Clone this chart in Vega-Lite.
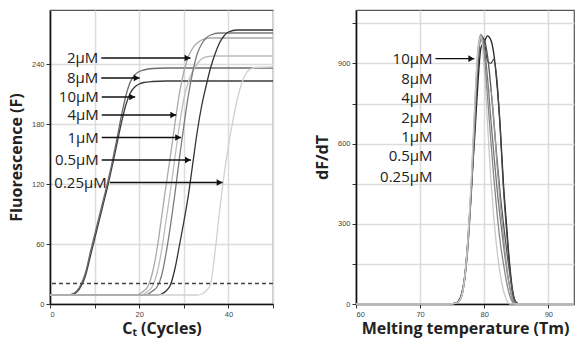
{
  "$schema": "https://vega.github.io/schema/vega-lite/v6.json",
  "padding": {"left": 7, "top": 9, "right": 0, "bottom": 0},
  "spacing": 36,
  "background": "white",
  "config": {
    "view": {"stroke": "#555", "strokeWidth": 1.2},
    "axis": {"grid": true, "gridColor": "#dcdcdc", "gridWidth": 1.5, "domainColor": "#111", "domainWidth": 1.6, "tickColor": "#333", "tickSize": 4, "labelFont": "Liberation Sans", "labelFontSize": 7.5, "labelColor": "#444", "labelPadding": 2, "titleFont": "Open Sans", "titleFontSize": 16, "titleFontWeight": "bold", "titleColor": "#222"}
  },
  "resolve": {"scale": {"color": "independent"}},
  "datasets": {
    "amp": [
      {"s":"10µM","c":0,"v":9},{"s":"10µM","c":4,"v":9},{"s":"10µM","c":5,"v":9.5},{"s":"10µM","c":6,"v":12},{"s":"10µM","c":7,"v":18},{"s":"10µM","c":8,"v":29},{"s":"10µM","c":9,"v":47},{"s":"10µM","c":10,"v":65},{"s":"10µM","c":11,"v":83},{"s":"10µM","c":12,"v":101},{"s":"10µM","c":13,"v":119},{"s":"10µM","c":14,"v":139},{"s":"10µM","c":15,"v":160},{"s":"10µM","c":16,"v":181},{"s":"10µM","c":17,"v":199},{"s":"10µM","c":18,"v":211},{"s":"10µM","c":19,"v":217},{"s":"10µM","c":20,"v":220},{"s":"10µM","c":21,"v":221.5},{"s":"10µM","c":23,"v":222.5},{"s":"10µM","c":26,"v":223},{"s":"10µM","c":50,"v":223},
      {"s":"8µM","c":0,"v":9},{"s":"8µM","c":4,"v":9},{"s":"8µM","c":5,"v":10},{"s":"8µM","c":6,"v":13},{"s":"8µM","c":7,"v":20},{"s":"8µM","c":8,"v":32},{"s":"8µM","c":9,"v":51},{"s":"8µM","c":10,"v":69},{"s":"8µM","c":11,"v":87},{"s":"8µM","c":12,"v":105},{"s":"8µM","c":13,"v":123},{"s":"8µM","c":14,"v":143},{"s":"8µM","c":15,"v":165},{"s":"8µM","c":16,"v":188},{"s":"8µM","c":17,"v":208},{"s":"8µM","c":18,"v":222},{"s":"8µM","c":19,"v":229},{"s":"8µM","c":20,"v":232.5},{"s":"8µM","c":21,"v":234},{"s":"8µM","c":23,"v":235.5},{"s":"8µM","c":26,"v":236},{"s":"8µM","c":50,"v":236},
      {"s":"4µM","c":0,"v":9},{"s":"4µM","c":19,"v":9},{"s":"4µM","c":20,"v":10},{"s":"4µM","c":21,"v":13},{"s":"4µM","c":22,"v":18},{"s":"4µM","c":23,"v":32},{"s":"4µM","c":24,"v":55},{"s":"4µM","c":25,"v":86},{"s":"4µM","c":26,"v":118},{"s":"4µM","c":27,"v":148},{"s":"4µM","c":28,"v":180},{"s":"4µM","c":29,"v":210},{"s":"4µM","c":30,"v":232},{"s":"4µM","c":31,"v":247},{"s":"4µM","c":32,"v":256},{"s":"4µM","c":33,"v":261},{"s":"4µM","c":34,"v":264},{"s":"4µM","c":36,"v":266},{"s":"4µM","c":50,"v":266},
      {"s":"1µM","c":0,"v":9},{"s":"1µM","c":20,"v":9},{"s":"1µM","c":21,"v":10},{"s":"1µM","c":22,"v":13},{"s":"1µM","c":23,"v":18},{"s":"1µM","c":24,"v":31},{"s":"1µM","c":25,"v":53},{"s":"1µM","c":26,"v":83},{"s":"1µM","c":27,"v":113},{"s":"1µM","c":28,"v":146},{"s":"1µM","c":29,"v":178},{"s":"1µM","c":30,"v":205},{"s":"1µM","c":31,"v":222},{"s":"1µM","c":32,"v":233},{"s":"1µM","c":33,"v":240},{"s":"1µM","c":34,"v":245},{"s":"1µM","c":35,"v":247},{"s":"1µM","c":37,"v":248},{"s":"1µM","c":50,"v":248},
      {"s":"2µM","c":0,"v":9},{"s":"2µM","c":21,"v":9},{"s":"2µM","c":22,"v":10},{"s":"2µM","c":23,"v":13},{"s":"2µM","c":24,"v":17},{"s":"2µM","c":25,"v":28},{"s":"2µM","c":26,"v":50},{"s":"2µM","c":27,"v":78},{"s":"2µM","c":28,"v":110},{"s":"2µM","c":29,"v":145},{"s":"2µM","c":30,"v":178},{"s":"2µM","c":31,"v":208},{"s":"2µM","c":32,"v":232},{"s":"2µM","c":33,"v":250},{"s":"2µM","c":34,"v":260},{"s":"2µM","c":35,"v":266},{"s":"2µM","c":36,"v":269},{"s":"2µM","c":38,"v":271},{"s":"2µM","c":50,"v":271},
      {"s":"0.5µM","c":0,"v":9},{"s":"0.5µM","c":24,"v":9},{"s":"0.5µM","c":25,"v":10},{"s":"0.5µM","c":26,"v":13},{"s":"0.5µM","c":27,"v":19},{"s":"0.5µM","c":28,"v":35},{"s":"0.5µM","c":29,"v":58},{"s":"0.5µM","c":30,"v":82},{"s":"0.5µM","c":31,"v":108},{"s":"0.5µM","c":32,"v":140},{"s":"0.5µM","c":33,"v":172},{"s":"0.5µM","c":34,"v":198},{"s":"0.5µM","c":35,"v":218},{"s":"0.5µM","c":36,"v":236},{"s":"0.5µM","c":37,"v":250},{"s":"0.5µM","c":38,"v":261},{"s":"0.5µM","c":39,"v":268},{"s":"0.5µM","c":40,"v":272},{"s":"0.5µM","c":42,"v":274},{"s":"0.5µM","c":50,"v":274},
      {"s":"0.25µM","c":0,"v":9},{"s":"0.25µM","c":33,"v":9},{"s":"0.25µM","c":34,"v":10},{"s":"0.25µM","c":35,"v":13},{"s":"0.25µM","c":36,"v":20},{"s":"0.25µM","c":37,"v":52},{"s":"0.25µM","c":38,"v":92},{"s":"0.25µM","c":39,"v":128},{"s":"0.25µM","c":40,"v":158},{"s":"0.25µM","c":41,"v":183},{"s":"0.25µM","c":42,"v":205},{"s":"0.25µM","c":43,"v":221},{"s":"0.25µM","c":44,"v":231},{"s":"0.25µM","c":45,"v":235},{"s":"0.25µM","c":46,"v":236.5},{"s":"0.25µM","c":50,"v":237}
    ],
    "melt": [
      {"s":"10µM","t":60,"v":0},{"s":"10µM","t":74.5,"v":0},{"s":"10µM","t":75,"v":1},{"s":"10µM","t":75.5,"v":3},{"s":"10µM","t":76,"v":12},{"s":"10µM","t":76.5,"v":40},{"s":"10µM","t":77,"v":110},{"s":"10µM","t":77.5,"v":260},{"s":"10µM","t":78,"v":440},{"s":"10µM","t":78.5,"v":620},{"s":"10µM","t":79,"v":820},{"s":"10µM","t":79.5,"v":960},{"s":"10µM","t":80,"v":980},{"s":"10µM","t":80.5,"v":1003},{"s":"10µM","t":81,"v":990},{"s":"10µM","t":81.5,"v":935},{"s":"10µM","t":82,"v":820},{"s":"10µM","t":82.5,"v":660},{"s":"10µM","t":83,"v":450},{"s":"10µM","t":83.5,"v":290},{"s":"10µM","t":84,"v":140},{"s":"10µM","t":84.5,"v":40},{"s":"10µM","t":85,"v":6},{"s":"10µM","t":85.5,"v":0},{"s":"10µM","t":94,"v":0},
      {"s":"8µM","t":60,"v":0},{"s":"8µM","t":74.5,"v":0},{"s":"8µM","t":75,"v":1},{"s":"8µM","t":75.5,"v":3},{"s":"8µM","t":76,"v":10},{"s":"8µM","t":76.5,"v":35},{"s":"8µM","t":77,"v":105},{"s":"8µM","t":77.5,"v":240},{"s":"8µM","t":78,"v":420},{"s":"8µM","t":78.5,"v":650},{"s":"8µM","t":79,"v":880},{"s":"8µM","t":79.5,"v":1005},{"s":"8µM","t":80,"v":985},{"s":"8µM","t":80.5,"v":910},{"s":"8µM","t":81,"v":900},{"s":"8µM","t":81.5,"v":915},{"s":"8µM","t":82,"v":830},{"s":"8µM","t":82.5,"v":650},{"s":"8µM","t":83,"v":430},{"s":"8µM","t":83.5,"v":270},{"s":"8µM","t":84,"v":125},{"s":"8µM","t":84.5,"v":30},{"s":"8µM","t":85,"v":3},{"s":"8µM","t":85.5,"v":0},{"s":"8µM","t":94,"v":0},
      {"s":"4µM","t":60,"v":0},{"s":"4µM","t":74.5,"v":0},{"s":"4µM","t":75,"v":1},{"s":"4µM","t":75.5,"v":3},{"s":"4µM","t":76,"v":10},{"s":"4µM","t":76.5,"v":38},{"s":"4µM","t":77,"v":115},{"s":"4µM","t":77.5,"v":250},{"s":"4µM","t":78,"v":440},{"s":"4µM","t":78.5,"v":680},{"s":"4µM","t":79,"v":900},{"s":"4µM","t":79.5,"v":1000},{"s":"4µM","t":80,"v":990},{"s":"4µM","t":80.5,"v":930},{"s":"4µM","t":81,"v":820},{"s":"4µM","t":81.5,"v":680},{"s":"4µM","t":82,"v":540},{"s":"4µM","t":82.5,"v":410},{"s":"4µM","t":83,"v":300},{"s":"4µM","t":83.5,"v":200},{"s":"4µM","t":84,"v":110},{"s":"4µM","t":84.5,"v":35},{"s":"4µM","t":85,"v":5},{"s":"4µM","t":85.5,"v":0},{"s":"4µM","t":94,"v":0},
      {"s":"2µM","t":60,"v":0},{"s":"2µM","t":74.5,"v":0},{"s":"2µM","t":75,"v":1},{"s":"2µM","t":75.5,"v":2},{"s":"2µM","t":76,"v":8},{"s":"2µM","t":76.5,"v":30},{"s":"2µM","t":77,"v":100},{"s":"2µM","t":77.5,"v":230},{"s":"2µM","t":78,"v":430},{"s":"2µM","t":78.5,"v":680},{"s":"2µM","t":79,"v":920},{"s":"2µM","t":79.5,"v":1000},{"s":"2µM","t":80,"v":960},{"s":"2µM","t":80.5,"v":850},{"s":"2µM","t":81,"v":700},{"s":"2µM","t":81.5,"v":560},{"s":"2µM","t":82,"v":430},{"s":"2µM","t":82.5,"v":320},{"s":"2µM","t":83,"v":220},{"s":"2µM","t":83.5,"v":130},{"s":"2µM","t":84,"v":60},{"s":"2µM","t":84.5,"v":15},{"s":"2µM","t":85,"v":1},{"s":"2µM","t":85.5,"v":0},{"s":"2µM","t":94,"v":0},
      {"s":"1µM","t":60,"v":0},{"s":"1µM","t":74.5,"v":0},{"s":"1µM","t":75,"v":1},{"s":"1µM","t":75.5,"v":3},{"s":"1µM","t":76,"v":10},{"s":"1µM","t":76.5,"v":35},{"s":"1µM","t":77,"v":110},{"s":"1µM","t":77.5,"v":250},{"s":"1µM","t":78,"v":460},{"s":"1µM","t":78.5,"v":720},{"s":"1µM","t":79,"v":950},{"s":"1µM","t":79.5,"v":1010},{"s":"1µM","t":80,"v":930},{"s":"1µM","t":80.5,"v":800},{"s":"1µM","t":81,"v":800},{"s":"1µM","t":81.5,"v":690},{"s":"1µM","t":82,"v":520},{"s":"1µM","t":82.5,"v":380},{"s":"1µM","t":83,"v":250},{"s":"1µM","t":83.5,"v":140},{"s":"1µM","t":84,"v":60},{"s":"1µM","t":84.5,"v":10},{"s":"1µM","t":85,"v":0},{"s":"1µM","t":94,"v":0},
      {"s":"0.5µM","t":60,"v":0},{"s":"0.5µM","t":74.5,"v":0},{"s":"0.5µM","t":75,"v":1},{"s":"0.5µM","t":75.5,"v":2},{"s":"0.5µM","t":76,"v":8},{"s":"0.5µM","t":76.5,"v":30},{"s":"0.5µM","t":77,"v":100},{"s":"0.5µM","t":77.5,"v":230},{"s":"0.5µM","t":78,"v":440},{"s":"0.5µM","t":78.5,"v":700},{"s":"0.5µM","t":79,"v":920},{"s":"0.5µM","t":79.5,"v":990},{"s":"0.5µM","t":80,"v":930},{"s":"0.5µM","t":80.5,"v":780},{"s":"0.5µM","t":81,"v":620},{"s":"0.5µM","t":81.5,"v":470},{"s":"0.5µM","t":82,"v":340},{"s":"0.5µM","t":82.5,"v":230},{"s":"0.5µM","t":83,"v":150},{"s":"0.5µM","t":83.5,"v":80},{"s":"0.5µM","t":84,"v":30},{"s":"0.5µM","t":84.5,"v":5},{"s":"0.5µM","t":85,"v":0},{"s":"0.5µM","t":94,"v":0},
      {"s":"0.25µM","t":60,"v":0},{"s":"0.25µM","t":74.5,"v":0},{"s":"0.25µM","t":75,"v":1},{"s":"0.25µM","t":75.5,"v":2},{"s":"0.25µM","t":76,"v":8},{"s":"0.25µM","t":76.5,"v":30},{"s":"0.25µM","t":77,"v":110},{"s":"0.25µM","t":77.5,"v":260},{"s":"0.25µM","t":78,"v":480},{"s":"0.25µM","t":78.5,"v":740},{"s":"0.25µM","t":79,"v":940},{"s":"0.25µM","t":79.5,"v":1000},{"s":"0.25µM","t":80,"v":880},{"s":"0.25µM","t":80.5,"v":680},{"s":"0.25µM","t":81,"v":480},{"s":"0.25µM","t":81.5,"v":320},{"s":"0.25µM","t":82,"v":200},{"s":"0.25µM","t":82.5,"v":110},{"s":"0.25µM","t":83,"v":50},{"s":"0.25µM","t":83.5,"v":15},{"s":"0.25µM","t":84,"v":0},{"s":"0.25µM","t":94,"v":0}
    ],
    "arrL": [
      {"label":"2µM","x1":11.5,"x2":31.5,"y":246},
      {"label":"8µM","x1":11.5,"x2":20.1,"y":226},
      {"label":"10µM","x1":11.6,"x2":19.1,"y":207},
      {"label":"4µM","x1":11.6,"x2":28.3,"y":189},
      {"label":"1µM","x1":11.6,"x2":29.4,"y":166.5},
      {"label":"0.5µM","x1":11.6,"x2":31.6,"y":144},
      {"label":"0.25µM","x1":13.4,"x2":38.7,"y":121.5}
    ],
    "labR": [
      {"label":"10µM","t":72.4,"v":917},
      {"label":"8µM","t":72.4,"v":840},
      {"label":"4µM","t":72.4,"v":769},
      {"label":"2µM","t":72.4,"v":696},
      {"label":"1µM","t":72.4,"v":623},
      {"label":"0.5µM","t":72.4,"v":552},
      {"label":"0.25µM","t":72.4,"v":476}
    ],
    "arrR": [
      {"label":"10µM","x1":72.4,"x2":78.45,"y":918}
    ]
  },
  "hconcat": [
    {
      "width": 223,
      "height": 294,
      "layer": [
        {
          "data": {"name": "amp"},
          "mark": {"type": "line", "strokeWidth": 1.3, "interpolate": "monotone"},
          "encoding": {
            "x": {"field": "c", "type": "quantitative", "scale": {"domain": [0, 50], "nice": false}, "axis": {"values": [0, 10, 20, 30, 40, 50], "labelExpr": "datum.value % 20 === 0 ? datum.label : ''", "title": "Cₜ (Cycles)", "titlePadding": 3}},
            "y": {"field": "v", "type": "quantitative", "scale": {"domain": [0, 294], "nice": false}, "axis": {"values": [0, 30, 60, 90, 120, 150, 180, 210, 240, 270], "labelExpr": "datum.value % 60 === 0 ? datum.label : ''", "title": "Fluorescence (F)", "titlePadding": 7}},
            "color": {"field": "s", "type": "nominal", "legend": null, "scale": {"domain": ["10µM", "8µM", "4µM", "1µM", "2µM", "0.5µM", "0.25µM"], "range": ["#3a3a3a", "#6a6a6a", "#a8a8a8", "#bdbdbd", "#7a7a7a", "#333333", "#d0d0d0"]}}
          }
        },
        {
          "data": {"values": [{}]},
          "mark": {"type": "rule", "strokeDash": [4, 3], "color": "#444", "strokeWidth": 1.5},
          "encoding": {"y": {"datum": 20.5}}
        },
        {
          "data": {"name": "arrL"},
          "mark": {"type": "rule", "color": "#111", "strokeWidth": 1.3},
          "encoding": {"x": {"field": "x1", "type": "quantitative"}, "x2": {"field": "x2"}, "y": {"field": "y", "type": "quantitative"}}
        },
        {
          "data": {"name": "arrL"},
          "mark": {"type": "point", "shape": "triangle-right", "filled": true, "color": "#111", "opacity": 1, "size": 45, "xOffset": -3},
          "encoding": {"x": {"field": "x2", "type": "quantitative"}, "y": {"field": "y", "type": "quantitative"}}
        },
        {
          "data": {"name": "arrL"},
          "mark": {"type": "text", "align": "right", "baseline": "middle", "dx": -3, "font": "Open Sans", "fontSize": 15, "color": "#222"},
          "encoding": {"x": {"field": "x1", "type": "quantitative"}, "y": {"field": "y", "type": "quantitative"}, "text": {"field": "label"}}
        }
      ]
    },
    {
      "width": 218,
      "height": 294,
      "layer": [
        {
          "data": {"name": "melt"},
          "mark": {"type": "line", "strokeWidth": 1.3, "interpolate": "monotone"},
          "encoding": {
            "x": {"field": "t", "type": "quantitative", "scale": {"domain": [60, 94], "nice": false}, "axis": {"values": [60, 65, 70, 75, 80, 85, 90], "labelExpr": "datum.value % 10 === 0 ? datum.label : ''", "title": "Melting temperature (Tm)", "titlePadding": 3}},
            "y": {"field": "v", "type": "quantitative", "scale": {"domain": [0, 1100], "nice": false}, "axis": {"values": [0, 150, 300, 450, 600, 750, 900, 1050], "labelExpr": "datum.value % 300 === 0 ? datum.label : ''", "title": "dF/dT", "titlePadding": 7}},
            "color": {"field": "s", "type": "nominal", "legend": null, "scale": {"domain": ["10µM", "8µM", "4µM", "2µM", "1µM", "0.5µM", "0.25µM"], "range": ["#222222", "#444444", "#555555", "#777777", "#999999", "#888888", "#c8c8c8"]}}
          }
        },
        {
          "data": {"name": "labR"},
          "mark": {"type": "text", "align": "right", "baseline": "middle", "dx": -3, "font": "Open Sans", "fontSize": 15, "color": "#222"},
          "encoding": {"x": {"field": "t", "type": "quantitative"}, "y": {"field": "v", "type": "quantitative"}, "text": {"field": "label"}}
        },
        {
          "data": {"name": "arrR"},
          "mark": {"type": "rule", "color": "#111", "strokeWidth": 1.3},
          "encoding": {"x": {"field": "x1", "type": "quantitative"}, "x2": {"field": "x2"}, "y": {"field": "y", "type": "quantitative"}}
        },
        {
          "data": {"name": "arrR"},
          "mark": {"type": "point", "shape": "triangle-right", "filled": true, "color": "#111", "opacity": 1, "size": 45, "xOffset": -3},
          "encoding": {"x": {"field": "x2", "type": "quantitative"}, "y": {"field": "y", "type": "quantitative"}}
        }
      ]
    }
  ]
}
